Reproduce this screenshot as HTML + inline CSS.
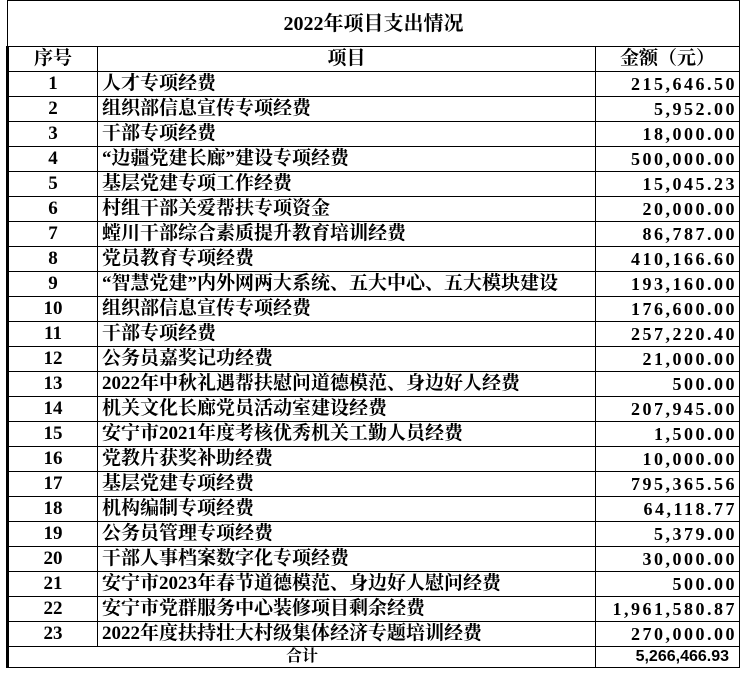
<!DOCTYPE html>
<html><head><meta charset="utf-8"><style>
body{margin:0;background:#fff;width:743px;height:675px;overflow:hidden}
table{position:absolute;left:6px;top:0;border-collapse:collapse;width:732px;table-layout:fixed;font-family:"Liberation Serif","Noto Serif CJK SC",serif;font-size:19px;font-weight:bold;color:#000}
td{border:1px solid #000;height:24px;padding:0 4px;white-space:nowrap;overflow:hidden;line-height:24px}
.t td{height:45px;text-align:center;font-size:20px}
.c{text-align:center}
.r{text-align:right;letter-spacing:2.5px;font-size:18px;padding-right:2px}
tr:not(.t) td:first-child{border-left:3px solid #000}
.tot{font-family:"Liberation Sans",sans-serif;font-weight:bold;font-size:16px;letter-spacing:0}
</style></head><body>
<table>
<colgroup><col style="width:90px"><col style="width:498px"><col style="width:144px"></colgroup>
<tr class="t"><td colspan="3">2022年项目支出情况</td></tr>
<tr><td class="c">序号</td><td class="c">项目</td><td class="c">金额（元）</td></tr>
<tr><td class="c">1</td><td>人才专项经费</td><td class="r">215,646.50</td></tr>
<tr><td class="c">2</td><td>组织部信息宣传专项经费</td><td class="r">5,952.00</td></tr>
<tr><td class="c">3</td><td>干部专项经费</td><td class="r">18,000.00</td></tr>
<tr><td class="c">4</td><td>“边疆党建长廊”建设专项经费</td><td class="r">500,000.00</td></tr>
<tr><td class="c">5</td><td>基层党建专项工作经费</td><td class="r">15,045.23</td></tr>
<tr><td class="c">6</td><td>村组干部关爱帮扶专项资金</td><td class="r">20,000.00</td></tr>
<tr><td class="c">7</td><td>螳川干部综合素质提升教育培训经费</td><td class="r">86,787.00</td></tr>
<tr><td class="c">8</td><td>党员教育专项经费</td><td class="r">410,166.60</td></tr>
<tr><td class="c">9</td><td>“智慧党建”内外网两大系统、五大中心、五大模块建设</td><td class="r">193,160.00</td></tr>
<tr><td class="c">10</td><td>组织部信息宣传专项经费</td><td class="r">176,600.00</td></tr>
<tr><td class="c">11</td><td>干部专项经费</td><td class="r">257,220.40</td></tr>
<tr><td class="c">12</td><td>公务员嘉奖记功经费</td><td class="r">21,000.00</td></tr>
<tr><td class="c">13</td><td>2022年中秋礼遇帮扶慰问道德模范、身边好人经费</td><td class="r">500.00</td></tr>
<tr><td class="c">14</td><td>机关文化长廊党员活动室建设经费</td><td class="r">207,945.00</td></tr>
<tr><td class="c">15</td><td>安宁市2021年度考核优秀机关工勤人员经费</td><td class="r">1,500.00</td></tr>
<tr><td class="c">16</td><td>党教片获奖补助经费</td><td class="r">10,000.00</td></tr>
<tr><td class="c">17</td><td>基层党建专项经费</td><td class="r">795,365.56</td></tr>
<tr><td class="c">18</td><td>机构编制专项经费</td><td class="r">64,118.77</td></tr>
<tr><td class="c">19</td><td>公务员管理专项经费</td><td class="r">5,379.00</td></tr>
<tr><td class="c">20</td><td>干部人事档案数字化专项经费</td><td class="r">30,000.00</td></tr>
<tr><td class="c">21</td><td>安宁市2023年春节道德模范、身边好人慰问经费</td><td class="r">500.00</td></tr>
<tr><td class="c">22</td><td>安宁市党群服务中心装修项目剩余经费</td><td class="r">1,961,580.87</td></tr>
<tr><td class="c">23</td><td>2022年度扶持壮大村级集体经济专题培训经费</td><td class="r">270,000.00</td></tr>
<tr><td colspan="2" class="c" style="height:20px;line-height:20px;font-size:16px">合计</td><td class="r tot" style="height:20px;line-height:20px;padding-right:10px">5,266,466.93</td></tr>
</table>
</body></html>
